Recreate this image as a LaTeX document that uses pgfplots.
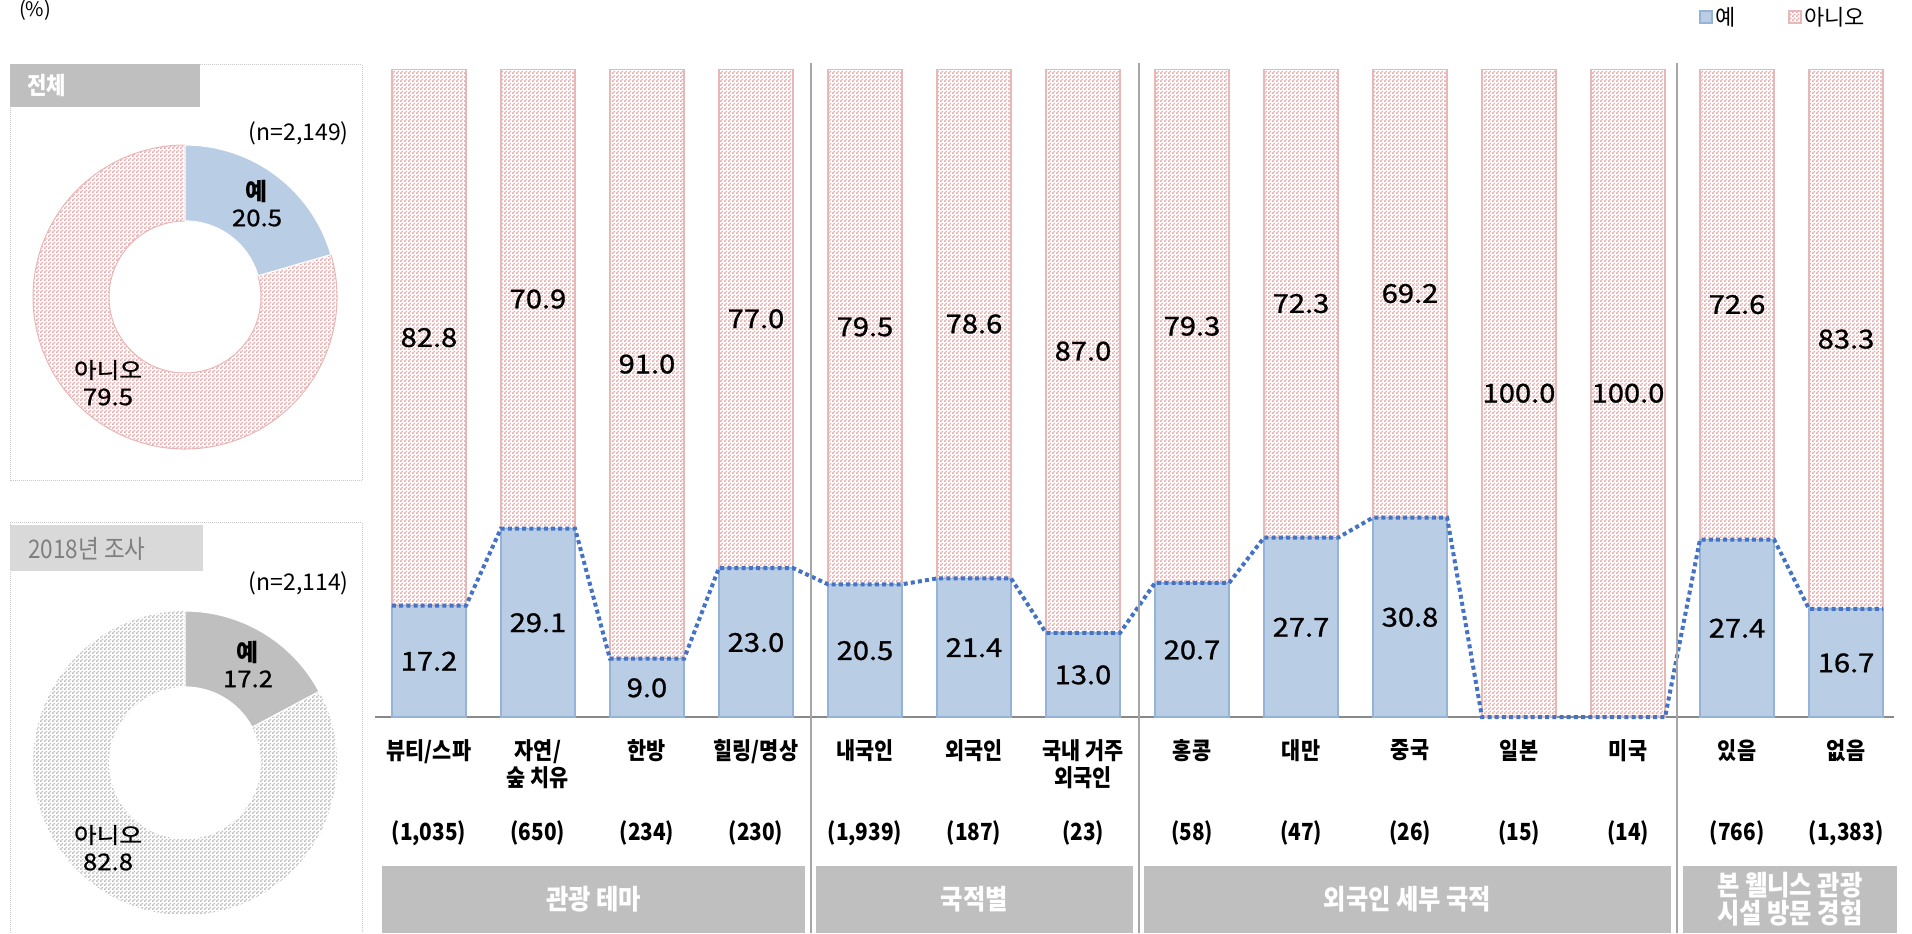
\documentclass[border=0pt]{standalone}
\usepackage{fontspec}
\setmainfont{Noto Sans CJK KR}
\newfontfamily\catfont{Noto Sans CJK KR}[FakeStretch=0.88]
\newfontfamily\valfont{Noto Sans CJK KR}[FakeStretch=1.12, FakeBold=1]
\usepackage{pgfplots}
\usepackage{pgfplotstable}
\pgfplotsset{compat=1.18}
\usetikzlibrary{patterns}

\definecolor{yesblue}{HTML}{B9CDE5}
\definecolor{yesedge}{HTML}{95B3D7}
\definecolor{nopink}{HTML}{E6A8A8}
\definecolor{noedge}{HTML}{E6B9B8}
\definecolor{linblue}{HTML}{4472C4}
\definecolor{axgray}{HTML}{898989}
\definecolor{sepgray}{HTML}{A6A6A6}
\definecolor{band}{HTML}{BFBFBF}
\definecolor{band2}{HTML}{D9D9D9}
\definecolor{txtgray}{HTML}{7F7F7F}
\definecolor{chkgray}{HTML}{BDBDBD}
\definecolor{boxgray}{HTML}{C8C8C8}

% fine checkerboard like the office "50%" fill
\pgfdeclarepatternformonly{checker}{\pgfqpoint{0pt}{0pt}}{\pgfqpoint{2pt}{2pt}}{\pgfqpoint{2pt}{2pt}}{%
  \pgfpathrectangle{\pgfqpoint{0pt}{0pt}}{\pgfqpoint{1pt}{1pt}}%
  \pgfpathrectangle{\pgfqpoint{1pt}{1pt}}{\pgfqpoint{1pt}{1pt}}%
  \pgfusepath{fill}}

% yes / no shares (%)
\pgfplotstableread{
x yes no
0 17.2 82.8
1 29.1 70.9
2 9.0 91.0
3 23.0 77.0
4 20.5 79.5
5 21.4 78.6
6 13.0 87.0
7 20.7 79.3
8 27.7 72.3
9 30.8 69.2
10 0.0 100.0
11 0.0 100.0
12 27.4 72.6
13 16.7 83.3
}\data

% donuts: total and 2018 survey
\def\yesAll{20.5}
\def\noAll{79.5}
\def\yesOld{17.2}
\def\noOld{82.8}
\pgfmathsetmacro\aAll{90-3.6*\yesAll}
\pgfmathsetmacro\aOld{90-3.6*\yesOld}

\pgfplotsset{
  base/.style={scale only axis, width=759.5pt, height=323.75pt,
    at={(187.5pt,108pt)}, anchor=south west,
    xmin=-0.495, xmax=13.44, ymin=0, ymax=100},
  donut/.style={hide axis, scale only axis, width=152pt, height=152pt,
    xmin=-1, xmax=1, ymin=-1, ymax=1, anchor=center, clip=false},
}
\newcommand\ring[4]{% center, start, end, style
  \path[#4] #1 ++(#2:76pt) arc[start angle=#2, end angle=#3, radius=76pt]
    -- ++(#3+180:38pt) arc[start angle=#3, end angle=#2, radius=38pt] -- cycle;}

\begin{document}
\begin{tikzpicture}
\useasboundingbox (0,0) rectangle (956pt,466.5pt);

% stacked bars
\begin{axis}[base,
  ybar stacked, bar width=0.68,
  axis x line=bottom, axis y line=none,
  x axis line style={-, draw=axgray, line width=1.1pt},
  ytick=\empty,
  xtick={0,...,13},
  xticklabels={뷰티/스파, {자연/\\숲 치유}, 한방, 힐링/명상, 내국인, 외국인, {국내 거주\\외국인}, 홍콩, 대만, 중국, 일본, 미국, 있음, 없음},
  major tick length=0pt,
  xticklabel style={font=\catfont\bfseries\fontsize{11.8}{13.5}\selectfont, align=center, anchor=north, inner sep=0pt, yshift=-11pt},
  extra x ticks={0,...,13},
  extra x tick labels={{(1,035)}, {(650)}, {(234)}, {(230)}, {(1,939)}, {(187)}, {(23)}, {(58)}, {(47)}, {(26)}, {(15)}, {(14)}, {(766)}, {(1,383)}},
  extra x tick style={xticklabel style={anchor=center, yshift=-47pt}},
]
\addplot[fill=yesblue, draw=yesedge, line width=0.75pt] table[x=x, y=yes] {\data};
\addplot[pattern=checker, pattern color=nopink, draw=noedge, line width=0.75pt] table[x=x, y=no] {\data};
\end{axis}

% series line and value labels
\begin{axis}[base, hide axis, clip=false,
  every node near coord/.append style={anchor=center, font=\valfont\fontsize{13}{15}\selectfont, text=black},
  /pgf/number format/.cd, fixed, fixed zerofill, precision=1, assume math mode=true]
\addplot[linblue, line width=2pt, dash pattern=on 2pt off 1.6pt] coordinates {
  (-0.34,17.2) (0.34,17.2) (0.66,29.1) (1.34,29.1) (1.66,9.0) (2.34,9.0)
  (2.66,23.0) (3.34,23.0) (3.66,20.5) (4.34,20.5) (4.66,21.4) (5.34,21.4)
  (5.66,13.0) (6.34,13.0) (6.66,20.7) (7.34,20.7) (7.66,27.7) (8.34,27.7)
  (8.66,30.8) (9.34,30.8) (9.66,0) (10.34,0) (10.66,0) (11.34,0)
  (11.66,27.4) (12.34,27.4) (12.66,16.7) (13.34,16.7)};
\addplot[draw=none, nodes near coords, point meta=explicit, restrict y to domain=0.01:200]
  table[x=x, y expr=\thisrow{yes}/2, meta=yes] {\data};
\addplot[draw=none, nodes near coords, point meta=explicit]
  table[x=x, y expr=\thisrow{yes}+\thisrow{no}/2, meta=no] {\data};
\end{axis}

% group separators
\foreach \sx in {405.5, 569.5, 838.5}
  \draw[sepgray, line width=1pt] (\sx pt,0) -- (\sx pt,435pt);

% group bands
\begin{scope}[every node/.style={text=white, font=\catfont\bfseries\fontsize{13.8}{12.4}\selectfont, align=center, inner sep=0pt}]
\fill[band] (191pt,0) rectangle (402.5pt,33.5pt);
\node at (296.75pt,16.75pt) {관광 테마};
\fill[band] (408pt,0) rectangle (566.5pt,33.5pt);
\node at (487.25pt,16.75pt) {국적별};
\fill[band] (572pt,0) rectangle (835.5pt,33.5pt);
\node at (703.75pt,16.75pt) {외국인 세부 국적};
\fill[band] (841.5pt,0) rectangle (948.5pt,33.5pt);
\node at (895pt,16.75pt) {본 웰니스 관광\\시설 방문 경험};
\end{scope}

% legend and unit
\fill[yesblue, draw=yesedge, line width=0.6pt] (850pt,455pt) rectangle (856pt,461pt);
\node[anchor=west, inner sep=0.5pt, font=\fontsize{11}{13}\selectfont] at (857pt,458pt) {예};
\path[pattern=checker, pattern color=nopink, draw=noedge, line width=0.6pt] (894.5pt,455pt) rectangle (900.5pt,461pt);
\node[anchor=west, inner sep=0.5pt, font=\fontsize{11}{13}\selectfont] at (901.5pt,458pt) {아니오};
\node[font=\fontsize{10}{12}\selectfont, inner sep=0pt] at (17.5pt,461.5pt) {(\%)};

% donut panel: total
\draw[boxgray, dash pattern=on 0.5pt off 0.5pt, line width=0.5pt] (5pt,226pt) rectangle (181pt,434pt);
\fill[band] (5pt,413pt) rectangle (100pt,434.5pt);
\node[anchor=west, text=white, inner sep=0pt, font=\catfont\bfseries\fontsize{12}{13}\selectfont] at (13.5pt,423.5pt) {전체};
\node[anchor=east, inner sep=0pt, font=\fontsize{11.5}{13}\selectfont] at (174.5pt,400pt) {(n=2,149)};
\begin{axis}[donut, at={(92.5pt,318pt)}]
\ring{(axis cs:0,0)}{\aAll}{-270}{pattern=checker, pattern color=nopink, draw=noedge, line width=0.5pt}
\ring{(axis cs:0,0)}{90}{\aAll}{fill=yesblue, draw=white, line width=0.6pt}
\end{axis}
\node[font=\bfseries\fontsize{12}{14}\selectfont, inner sep=0pt] at (128.5pt,370.5pt) {예};
\node[font=\valfont\fontsize{11.5}{13}\selectfont, inner sep=0pt] at (128.5pt,357.5pt) {\yesAll};
\node[font=\valfont\fontsize{11}{13}\selectfont, inner sep=0pt] at (54pt,281.5pt) {아니오};
\node[font=\valfont\fontsize{11.5}{13}\selectfont, inner sep=0pt] at (54pt,268pt) {\noAll};

% donut panel: 2018 survey
\draw[boxgray, dash pattern=on 0.5pt off 0.5pt, line width=0.5pt] (5pt,0) -- (5pt,205pt) -- (181pt,205pt) -- (181pt,0);
\fill[band2] (5pt,181pt) rectangle (101.5pt,204pt);
\node[anchor=west, text=txtgray, inner sep=0pt, font=\catfont\fontsize{12.8}{14}\selectfont] at (14pt,192pt) {2018년 조사};
\node[anchor=east, inner sep=0pt, font=\fontsize{11.5}{13}\selectfont] at (174.5pt,175pt) {(n=2,114)};
\begin{axis}[donut, at={(92.5pt,85pt)}]
\ring{(axis cs:0,0)}{\aOld}{-270}{pattern=checker, pattern color=chkgray}
\ring{(axis cs:0,0)}{90}{\aOld}{fill=band, draw=white, line width=0.6pt}
\end{axis}
\node[font=\bfseries\fontsize{12}{14}\selectfont, inner sep=0pt] at (124pt,140.5pt) {예};
\node[font=\valfont\fontsize{11.5}{13}\selectfont, inner sep=0pt] at (124pt,127pt) {\yesOld};
\node[font=\valfont\fontsize{11}{13}\selectfont, inner sep=0pt] at (54pt,49pt) {아니오};
\node[font=\valfont\fontsize{11.5}{13}\selectfont, inner sep=0pt] at (54pt,35.5pt) {\noOld};
\end{tikzpicture}
\end{document}
